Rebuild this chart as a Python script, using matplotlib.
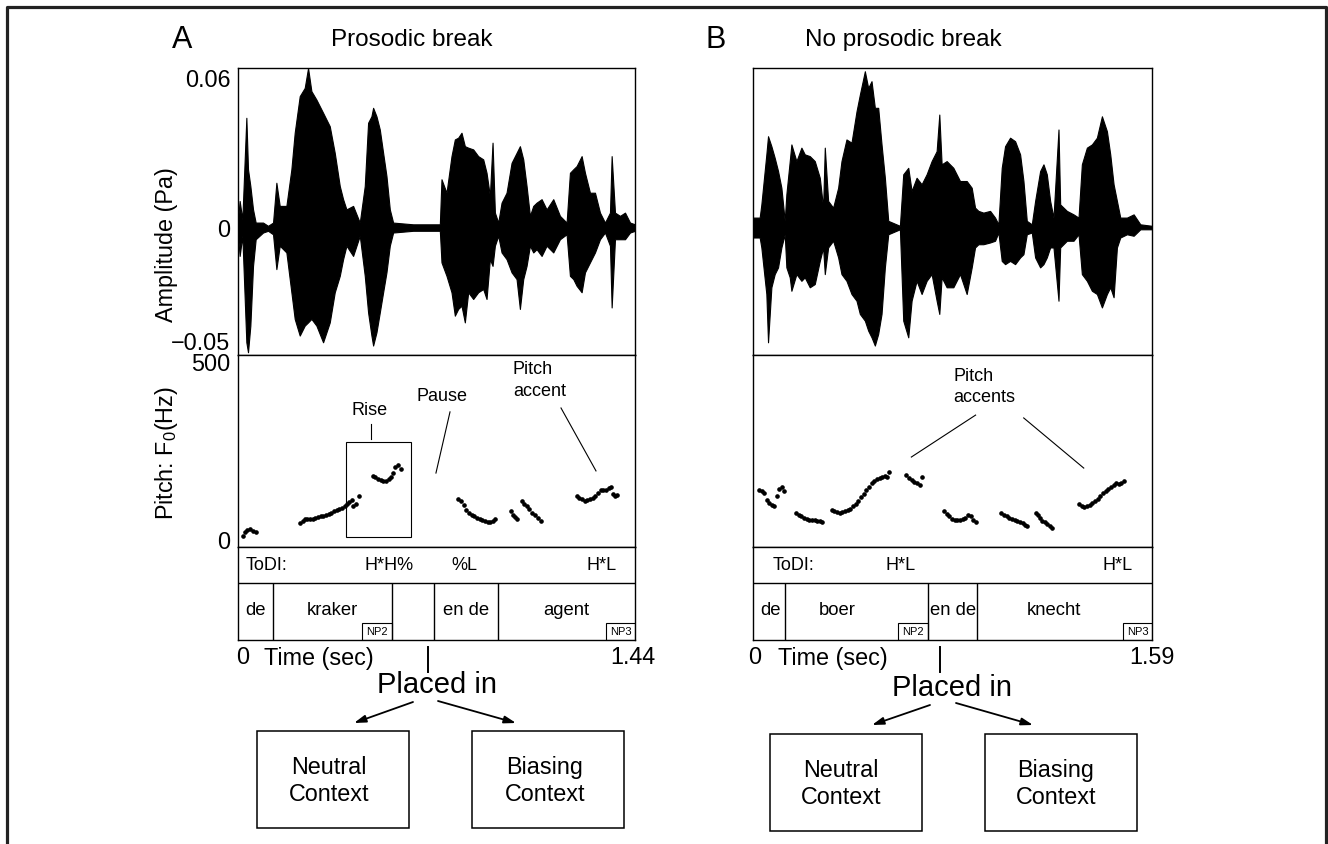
import matplotlib.pyplot as plt
from matplotlib.patches import Rectangle

plt.rcParams['font.family'] = ['Liberation Sans', 'DejaVu Sans']
plt.rcParams['mathtext.fontset'] = 'custom'
plt.rcParams['mathtext.rm'] = 'Liberation Sans'

W, H = 1328, 844

# ---------------- panel A: prosodic break ----------------
a_dur = 1.44
a_env_t = [0.000, 0.006, 0.0157, 0.0303, 0.0363, 0.0448, 0.0545, 0.0641, 0.0908, 0.1089,
           0.1271, 0.1392, 0.1513, 0.1755, 0.1936, 0.2057, 0.2239, 0.2420, 0.2541, 0.2662,
           0.2844, 0.3086, 0.3328, 0.3509, 0.3691, 0.3812, 0.3933, 0.4175, 0.4417, 0.4598,
           0.4719, 0.4840, 0.4901, 0.5022, 0.5143, 0.5264, 0.5385, 0.5506, 0.5627, 0.6353,
           0.7321, 0.7381, 0.7563, 0.7744, 0.7865, 0.7986, 0.8107, 0.8228, 0.8349, 0.8531,
           0.8712, 0.8894, 0.9015, 0.9136, 0.9233, 0.9318, 0.9439, 0.9560, 0.9741, 0.9923,
           1.0104, 1.0225, 1.0346, 1.0467, 1.0588, 1.0709, 1.0830, 1.1012, 1.1193, 1.1435,
           1.1677, 1.1919, 1.2040, 1.2161, 1.2282, 1.2464, 1.2585, 1.2766, 1.2948, 1.3129,
           1.3311, 1.3492, 1.3553, 1.3674, 1.3856, 1.4037, 1.4219, 1.4400]
a_env_hi = [0.0033, 0.0107, 0.0033, 0.0441, 0.0234, 0.0167, 0.0073, 0.0020, 0.0020, 0.0007,
            0.0020, 0.0180, 0.0087, 0.0087, 0.0234, 0.0381, 0.0528, 0.0561, 0.0641, 0.0548,
            0.0514, 0.0461, 0.0407, 0.0300, 0.0167, 0.0114, 0.0073, 0.0087, 0.0020, 0.0167,
            0.0421, 0.0447, 0.0481, 0.0447, 0.0394, 0.0300, 0.0207, 0.0073, 0.0020, 0.0013,
            0.0013, 0.0194, 0.0140, 0.0287, 0.0354, 0.0361, 0.0381, 0.0327, 0.0321, 0.0314,
            0.0287, 0.0274, 0.0220, 0.0127, 0.0341, 0.0060, 0.0020, 0.0100, 0.0140, 0.0260,
            0.0300, 0.0327, 0.0274, 0.0167, 0.0047, 0.0087, 0.0100, 0.0114, 0.0073, 0.0114,
            0.0047, 0.0020, 0.0220, 0.0234, 0.0247, 0.0287, 0.0220, 0.0140, 0.0140, 0.0060,
            0.0020, 0.0060, 0.0287, 0.0060, 0.0047, 0.0060, 0.0020, 0.0013]
a_env_lo = [-0.0033, -0.0114, -0.0033, -0.0461, -0.0501, -0.0394, -0.0154, -0.0047, -0.0020, -0.0013,
            -0.0027, -0.0167, -0.0073, -0.0100, -0.0260, -0.0367, -0.0434, -0.0394, -0.0381, -0.0367,
            -0.0394, -0.0461, -0.0381, -0.0260, -0.0194, -0.0127, -0.0073, -0.0114, -0.0033, -0.0194,
            -0.0341, -0.0434, -0.0474, -0.0421, -0.0341, -0.0260, -0.0180, -0.0073, -0.0020, -0.0013,
            -0.0013, -0.0140, -0.0194, -0.0260, -0.0354, -0.0327, -0.0314, -0.0381, -0.0260, -0.0287,
            -0.0260, -0.0247, -0.0287, -0.0127, -0.0154, -0.0073, -0.0033, -0.0100, -0.0127, -0.0180,
            -0.0207, -0.0327, -0.0207, -0.0154, -0.0073, -0.0100, -0.0087, -0.0114, -0.0073, -0.0100,
            -0.0047, -0.0027, -0.0194, -0.0207, -0.0234, -0.0260, -0.0180, -0.0140, -0.0100, -0.0047,
            -0.0020, -0.0073, -0.0321, -0.0047, -0.0047, -0.0047, -0.0020, -0.0013]

a_pitch_t = [0.0193, 0.0254, 0.0339, 0.0435, 0.0532, 0.0653,
             0.225, 0.2346, 0.243, 0.2515, 0.261, 0.2708, 0.2805, 0.290, 0.2998, 0.3095, 0.3192,
             0.3289, 0.3385, 0.3482, 0.3579, 0.3675, 0.3772, 0.3869, 0.3966, 0.4038, 0.4123,
             0.4183, 0.4268, 0.4377,
             0.4885, 0.4981, 0.5078, 0.5175, 0.5271, 0.5368, 0.5465, 0.5562, 0.5634, 0.5707,
             0.5803, 0.590,
             0.7992, 0.8089, 0.8185, 0.8282, 0.8379, 0.8475, 0.8572, 0.8669, 0.8766, 0.8862,
             0.8959, 0.9056, 0.9152, 0.9249, 0.9322,
             0.9902, 0.9962, 1.0047, 1.0132, 1.0301, 1.0374, 1.0470, 1.0567, 1.0664, 1.0773,
             1.0869, 1.0978,
             1.2284, 1.2381, 1.2477, 1.2574, 1.2671, 1.2768, 1.2864, 1.2961, 1.3058, 1.3155,
             1.3251, 1.3348, 1.3445, 1.3517, 1.3590, 1.3686, 1.3759]
a_pitch_hz = [11, 23, 28, 30, 26, 23,
              47, 54, 58, 59, 59, 60, 61, 63, 66, 68, 71,
              74, 77, 80, 83, 87, 91, 95, 101, 107, 112,
              96, 101, 124,
              180, 176, 172, 169, 167, 167, 170, 178, 189, 204,
              210, 200,
              116, 108, 97, 84, 77, 71, 66, 62, 58, 55,
              53, 51, 51, 54, 58,
              81, 71, 63, 58, 108, 100, 94, 86, 75, 69,
              61, 52,
              124, 119, 114, 110, 112, 115, 118, 124, 133, 140,
              139, 140, 146, 150, 129, 124, 125]

a_todi = ['ToDI:', 'H*H%', '%L', 'H*L']
a_todi_t = [0.105, 0.548, 0.820, 1.320]
a_bounds = [0.127, 0.5586, 0.7109, 0.9431]
a_words = ['de', 'kraker', 'en de', 'agent']
a_words_t = [0.064, 0.343, 0.827, 1.192]
a_np = [('NP2', 0.450, 0.5586), ('NP3', 1.335, 1.44)]

# ---------------- panel B: no prosodic break ----------------
b_dur = 1.59
b_env_t = [0.0, 0.0266, 0.0333, 0.0532, 0.0599, 0.0732, 0.0865, 0.0998, 0.1131, 0.1264,
           0.1330, 0.1464, 0.1530, 0.1730, 0.1929, 0.2062, 0.2262, 0.2461, 0.2661, 0.2794,
           0.2861, 0.2994, 0.3193, 0.3393, 0.3526, 0.3725, 0.3925, 0.4125, 0.4258, 0.4457,
           0.4590, 0.4723, 0.4856, 0.4989, 0.5122, 0.5255, 0.5389, 0.5854, 0.5987, 0.6187,
           0.6320, 0.6519, 0.6719, 0.6919, 0.7118, 0.7318, 0.7424, 0.7517, 0.7717, 0.7983,
           0.8249, 0.8515, 0.8715, 0.8848, 0.8981, 0.9180, 0.9447, 0.9646, 0.9779, 0.9912,
           1.0045, 1.0245, 1.0444, 1.0644, 1.0777, 1.0910, 1.1110, 1.1243, 1.1442, 1.1575,
           1.1708, 1.1841, 1.1974, 1.2174, 1.2241, 1.2507, 1.2773, 1.2972, 1.3105, 1.3305,
           1.3505, 1.3704, 1.3904, 1.4103, 1.4236, 1.4369, 1.4502, 1.4635, 1.4901, 1.5168,
           1.5434, 1.5899]
b_env_hi = [0.0040, 0.0040, 0.0093, 0.0294, 0.0367, 0.0327, 0.0280, 0.0227, 0.0160, 0.0027,
            0.0134, 0.0267, 0.0334, 0.0267, 0.0321, 0.0294, 0.0287, 0.0267, 0.0200, 0.0080,
            0.0321, 0.0107, 0.0080, 0.0160, 0.0267, 0.0354, 0.0341, 0.0467, 0.0534, 0.0628,
            0.0561, 0.0588, 0.0481, 0.0481, 0.0334, 0.0200, 0.0027, 0.0007, 0.0214, 0.0240,
            0.0147, 0.0200, 0.0174, 0.0214, 0.0267, 0.0307, 0.0454, 0.0254, 0.0267, 0.0240,
            0.0187, 0.0187, 0.0160, 0.0080, 0.0067, 0.0060, 0.0067, 0.0040, 0.0013, 0.0240,
            0.0327, 0.0361, 0.0347, 0.0294, 0.0187, 0.0027, 0.0013, 0.0107, 0.0227, 0.0254,
            0.0214, 0.0107, 0.0040, 0.0394, 0.0093, 0.0067, 0.0053, 0.0040, 0.0254, 0.0321,
            0.0334, 0.0361, 0.0447, 0.0387, 0.0294, 0.0174, 0.0107, 0.0040, 0.0040, 0.0053,
            0.0013, 0.0007]
b_env_lo = [-0.0040, -0.0040, -0.0080, -0.0267, -0.0461, -0.0240, -0.0187, -0.0160, -0.0080, -0.0027,
            -0.0160, -0.0200, -0.0254, -0.0187, -0.0214, -0.0200, -0.0240, -0.0227, -0.0134, -0.0080,
            -0.0187, -0.0080, -0.0053, -0.0120, -0.0187, -0.0214, -0.0267, -0.0294, -0.0347, -0.0374,
            -0.0414, -0.0441, -0.0474, -0.0427, -0.0347, -0.0160, -0.0027, -0.0007, -0.0374, -0.0441,
            -0.0294, -0.0214, -0.0267, -0.0214, -0.0187, -0.0294, -0.0347, -0.0200, -0.0240, -0.0240,
            -0.0187, -0.0267, -0.0160, -0.0080, -0.0067, -0.0067, -0.0060, -0.0053, -0.0020, -0.0134,
            -0.0147, -0.0134, -0.0147, -0.0120, -0.0107, -0.0027, -0.0020, -0.0120, -0.0160, -0.0147,
            -0.0120, -0.0080, -0.0080, -0.0294, -0.0080, -0.0053, -0.0053, -0.0027, -0.0187, -0.0214,
            -0.0254, -0.0267, -0.0321, -0.0267, -0.0240, -0.0280, -0.0080, -0.0040, -0.0027, -0.0033,
            -0.0007, -0.0007]

b_pitch_t = [0.0253, 0.036, 0.044, 0.0546, 0.0653, 0.0759, 0.0852, 0.0946, 0.1052, 0.1159, 0.1239,
             0.1718, 0.1825, 0.1931, 0.2038, 0.2144, 0.2251, 0.2357, 0.2464, 0.2570, 0.2677, 0.2757,
             0.3129, 0.3236, 0.3343, 0.3449, 0.3556, 0.3662, 0.3769, 0.3875, 0.3982, 0.4088, 0.4195,
             0.4301, 0.4408, 0.4515, 0.4621, 0.4728, 0.4834, 0.4941, 0.5047, 0.5154, 0.5260, 0.5340,
             0.5433,
             0.6113, 0.6219, 0.6326, 0.6432, 0.6539, 0.6645, 0.6725,
             0.7604, 0.7711, 0.7817, 0.7924, 0.8030, 0.8137, 0.8243, 0.8350, 0.8457, 0.8563, 0.8670,
             0.8776, 0.8883,
             0.9895, 1.0001, 1.0108, 1.0215, 1.0321, 1.0427, 1.0534, 1.0641, 1.0747, 1.0854, 1.0934,
             1.128, 1.136, 1.144, 1.152, 1.1626, 1.1733, 1.1839, 1.1919,
             1.2998, 1.3091, 1.3197, 1.3304, 1.3411, 1.3517, 1.3624, 1.3730, 1.3837, 1.3943, 1.4050,
             1.4156, 1.4263, 1.4370, 1.4476, 1.4582, 1.4662, 1.4795]
b_pitch_hz = [139, 137, 133, 112, 103, 97, 94, 124, 142, 150, 137,
              75, 69, 66, 62, 59, 57, 56, 55, 54, 53, 51,
              84, 81, 78, 77, 78, 80, 83, 88, 94, 101, 110,
              120, 129, 140, 150, 159, 165, 170, 175, 178, 180, 178,
              191,
              182, 175, 169, 163, 159, 155, 178,
              82, 73, 66, 60, 56, 55, 56, 58, 62, 69, 66,
              56, 51,
              77, 69, 66, 62, 58, 56, 52, 49, 47, 43, 39,
              77, 69, 62, 54, 49, 45, 39, 34,
              101, 94, 92, 94, 97, 103, 109, 116, 124, 131, 137,
              144, 150, 155, 159, 157, 161, 165]

b_todi = ['ToDI:', 'H*L', 'H*L']
b_todi_t = [0.160, 0.587, 1.454]
b_bounds = [0.128, 0.699, 0.891]
b_words = ['de', 'boer', 'en de', 'knecht']
b_words_t = [0.068, 0.336, 0.799, 1.199]
b_np = [('NP2', 0.579, 0.699), ('NP3', 1.474, 1.59)]

FS = 16.8   # main text size
fig = plt.figure(figsize=(W / 100, H / 100), dpi=100)


def px_axes(x0, y0, x1, y1):
    ax = fig.add_axes([x0 / W, 1 - y1 / H, (x1 - x0) / W, (y1 - y0) / H])
    for s in ax.spines.values():
        s.set_linewidth(1.0)
    ax.tick_params(length=0)
    ax.set_xticks([])
    ax.set_yticks([])
    return ax


def draw_panel(x0, x1, dur, env_t, env_hi, env_lo, pt, phz, todi, todi_t,
               bounds, words, words_t, nps):
    wave = px_axes(x0, 68, x1, 355)
    wave.fill_between(env_t, env_lo, env_hi, color='black', lw=0.8)
    wave.set_xlim(0, dur)
    wave.set_ylim(-0.0512, 0.0641)

    pitch = px_axes(x0, 355, x1, 547)
    pitch.plot(pt, phz, 'o', ms=2.3, color='black')
    pitch.set_xlim(0, dur)
    pitch.set_ylim(-20, 520)

    tier = px_axes(x0, 547, x1, 640)
    tier.set_xlim(0, dur)
    tier.set_ylim(0, 1)
    tier.axhline(0.613, color='black', lw=1.0)
    tier.vlines(bounds, 0, 0.613, color='black', lw=1.0)
    for lab, t in zip(todi, todi_t):
        tier.text(t, 0.80, lab, ha='center', va='center', fontsize=13)
    for lab, t in zip(words, words_t):
        tier.text(t, 0.32, lab, ha='center', va='center', fontsize=13.3)
    for lab, t0, t1 in nps:
        tier.add_patch(Rectangle((t0, 0), t1 - t0, 0.183, fill=False, lw=0.8))
        tier.text((t0 + t1) / 2, 0.085, lab, ha='center', va='center', fontsize=8)
    return wave, pitch


wa, pa = draw_panel(238, 635, a_dur, a_env_t, a_env_hi, a_env_lo, a_pitch_t, a_pitch_hz,
                    a_todi, a_todi_t, a_bounds, a_words, a_words_t, a_np)
wb, pb = draw_panel(753, 1152, b_dur, b_env_t, b_env_hi, b_env_lo, b_pitch_t, b_pitch_hz,
                    b_todi, b_todi_t, b_bounds, b_words, b_words_t, b_np)

# axis ticks on panel A only
wa.set_yticks([0.06, 0])
wa.set_yticklabels(['0.06', '0'], fontsize=FS)
wa.tick_params(axis='y', pad=5.5)
pa.set_yticks([0, 500])
pa.set_yticklabels(['0', '500'], fontsize=FS)
pa.tick_params(axis='y', pad=5.5)

# annotations inside the pitch panels
pa.add_patch(Rectangle((0.392, 8), 0.2355, 267, fill=False, lw=0.8))
pa.plot([0.482, 0.482], [284, 326], color='black', lw=0.8)
pa.text(0.479, 365, 'Rise', ha='center', va='center', fontsize=13)
pa.text(0.740, 402, 'Pause', ha='center', va='center', fontsize=13)
pa.plot([0.769, 0.718], [360, 188], color='black', lw=0.8)
pa.text(0.997, 449, 'Pitch\naccent', ha='left', va='center', fontsize=13, linespacing=1.35)
pa.plot([1.1716, 1.2985], [371, 194], color='black', lw=0.8)

pb.text(0.799, 430, 'Pitch\naccents', ha='left', va='center', fontsize=13, linespacing=1.35)
pb.plot([0.887, 0.631], [351, 233], color='black', lw=0.8)
pb.plot([1.0787, 1.318], [343, 202], color='black', lw=0.8)

# overlay in pixel coordinates for frame, titles and the lower diagram
ov = fig.add_axes([0, 0, 1, 1], zorder=-1)
ov.set_xlim(0, W)
ov.set_ylim(H, 0)
ov.axis('off')

ov.plot([7, 7, 1326, 1326], [H + 5, 7, 7, H + 5], color='#222222', lw=2.3, clip_on=False)

ov.text(182, 40, 'A', fontsize=22, ha='center', va='center')
ov.text(412, 40, 'Prosodic break', fontsize=17.5, ha='center', va='center')
ov.text(716, 40, 'B', fontsize=22, ha='center', va='center')
ov.text(903, 40, 'No prosodic break', fontsize=17.5, ha='center', va='center')

ov.text(167, 245, 'Amplitude (Pa)', rotation=90, fontsize=FS, ha='center', va='center')
ov.text(167, 453, 'Pitch: F$_0$(Hz)', rotation=90, fontsize=FS, ha='center', va='center')
ov.text(230, 343, '\u22120.05', fontsize=FS, ha='right', va='center')

for x0, xt, x1, end, xm in [(243, 319, 633, '1.44', 428), (755, 833, 1152, '1.59', 940)]:
    ov.text(x0, 658, '0', fontsize=FS, ha='center', va='center')
    ov.text(xt, 658, 'Time (sec)', fontsize=FS, ha='center', va='center')
    ov.text(x1, 658, end, fontsize=FS, ha='center', va='center')
    ov.plot([xm, xm], [647, 672], color='black', lw=1.4)

arrow_kw = dict(arrowstyle='-|>,head_length=0.7,head_width=0.22', color='black', lw=1.3,
                shrinkA=0, shrinkB=0)
for cx, cy, arrows, boxes in [
        (437, 685, [((413, 702), (354, 723)), ((438, 701), (516, 723))],
         [(257, 731, 329, 'Neutral\nContext'), (472, 731, 545, 'Biasing\nContext')]),
        (952, 688, [((930, 705), (872, 725)), ((956, 703), (1033, 725))],
         [(770, 734, 841, 'Neutral\nContext'), (985, 734, 1056, 'Biasing\nContext')])]:
    ov.text(cx, cy, 'Placed in', fontsize=21, ha='center', va='center')
    for start, end in arrows:
        ov.annotate('', xy=end, xytext=start, arrowprops=arrow_kw)
    for bx, by, tx, lab in boxes:
        ov.add_patch(Rectangle((bx, by), 152, 97, fill=False, lw=1.1, edgecolor='black'))
        ov.text(tx, by + 50, lab, fontsize=FS, ha='center', va='center', linespacing=1.2)

fig.savefig('out.png', dpi=100)
